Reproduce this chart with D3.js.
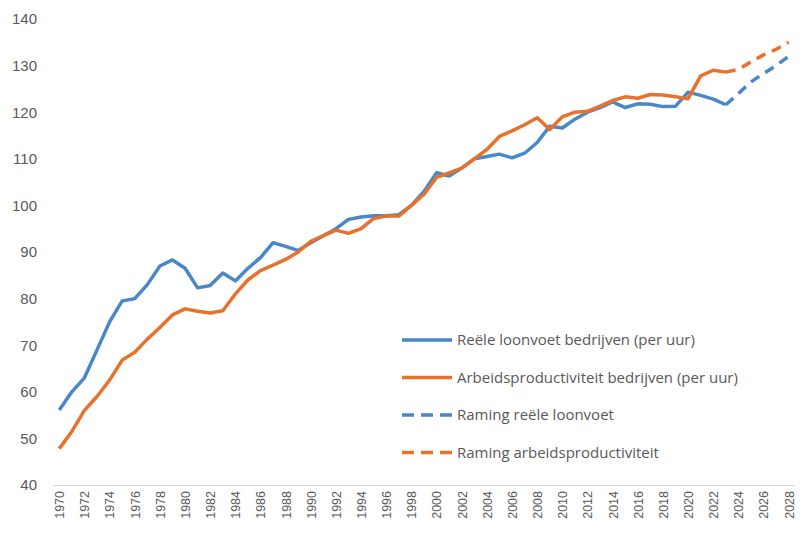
<!DOCTYPE html>
<html>
<head>
<meta charset="utf-8">
<script src="https://cdn.jsdelivr.net/npm/d3@7"></script>
<style>
  body { margin: 0; background: #fff; }
  svg { display: block; font-family: "Open Sans", "Noto Sans", sans-serif; }
</style>
</head>
<body>
<svg width="803" height="533"></svg>
<script>
"use strict";

// years on the axis
const years = d3.range(1970, 2029);

// Reële loonvoet bedrijven (per uur), 1970-2023
const loonvoet = [56.1, 60, 63, 69, 75, 79.5, 80, 83, 87, 88.3,
  86.5, 82.3, 82.8, 85.5, 83.8, 86.5, 88.8, 92, 91.2, 90.3,
  92, 93.5, 95, 97, 97.5, 97.8, 97.8, 98, 100, 103,
  107, 106.3, 108, 110, 110.5, 111, 110.2, 111.2, 113.5, 117,
  116.6, 118.5, 120, 121, 122.2, 121, 121.8, 121.7, 121.2, 121.3,
  124.3, 123.6, 122.8, 121.6];

// Arbeidsproductiviteit bedrijven (per uur), 1970-2023
const productiviteit = [47.8, 51.5, 56, 59, 62.5, 66.8, 68.5, 71.3, 73.8, 76.5,
  77.8, 77.3, 76.9, 77.4, 81, 84, 86, 87.2, 88.4, 90,
  92.3, 93.5, 94.7, 94, 95, 97.2, 97.7, 97.7, 100, 102.4,
  106, 107, 108, 110, 112, 114.8, 116, 117.3, 118.8, 116.3,
  119, 120, 120.2, 121.3, 122.5, 123.3, 123, 123.8, 123.7, 123.3,
  122.9, 127.8, 129, 128.6];

// ramingen 2023-2028
const ramingYears = [2023, 2024, 2025, 2026, 2027, 2028];
const ramingLoonvoet = [121.6, 124, 126.5, 128.3, 130, 132];
const ramingProductiviteit = [128.6, 129.2, 130.8, 132.3, 133.5, 135];

const yTicks = [40, 50, 60, 70, 80, 90, 100, 110, 120, 130, 140];

const legendLabels = [
  "Reële loonvoet bedrijven (per uur)",
  "Arbeidsproductiviteit bedrijven (per uur)",
  "Raming reële loonvoet",
  "Raming arbeidsproductiviteit"
];

const blue = "#4a87c9", orange = "#e8722c", grey = "#595959";

const svg = d3.select("svg");

const x = d3.scalePoint()
  .domain(years)
  .range([53, 795])
  .padding(0.5);

const y = d3.scaleLinear()
  .domain([40, 140])
  .range([485, 19]);

// y axis, labels only
const yAxis = svg.append("g")
  .attr("transform", "translate(37,0)")
  .call(d3.axisLeft(y).tickValues(yTicks).tickSize(0).tickPadding(0));
yAxis.select(".domain").remove();
yAxis.selectAll("text")
  .attr("fill", grey)
  .style("font-size", "15px");

// x axis
const xAxis = svg.append("g")
  .attr("transform", "translate(0,485)")
  .call(d3.axisBottom(x)
    .tickValues(years.filter(d => d % 2 === 0))
    .tickSize(0)
    .tickSizeOuter(0));
xAxis.select(".domain")
  .attr("stroke", "#d9d9d9")
  .attr("d", "M53,0.5H795");
xAxis.selectAll("text")
  .attr("fill", grey)
  .style("font-size", "12.5px")
  .attr("text-anchor", "end")
  .attr("transform", "rotate(-90)")
  .attr("x", -6)
  .attr("y", 0)
  .attr("dy", "0.35em");

const line = d3.line()
  .x(d => x(d[0]))
  .y(d => y(d[1]));

const series = [
  { years: years, values: loonvoet, color: blue, dash: null },
  { years: years, values: productiviteit, color: orange, dash: null },
  { years: ramingYears, values: ramingLoonvoet, color: blue, dash: "10,7" },
  { years: ramingYears, values: ramingProductiviteit, color: orange, dash: "10,7" }
];

series.forEach(s => {
  const pts = s.values.map((v, i) => [s.years[i], v]);
  svg.append("path")
    .attr("d", line(pts))
    .attr("fill", "none")
    .attr("stroke", s.color)
    .attr("stroke-width", 3.5)
    .attr("stroke-linejoin", "round")
    .attr("stroke-dasharray", s.dash);
});

// legend
const legend = svg.append("g").attr("transform", "translate(402,340)");
legendLabels.forEach((label, i) => {
  const g = legend.append("g").attr("transform", "translate(0," + (i * 37.5) + ")");
  g.append("line")
    .attr("x1", 0).attr("x2", 50)
    .attr("stroke", series[i].color)
    .attr("stroke-width", 3.5)
    .attr("stroke-dasharray", series[i].dash ? "12,7" : null);
  g.append("text")
    .attr("x", 55)
    .attr("dy", "0.35em")
    .attr("fill", grey)
    .style("font-size", "15px")
    .text(label);
});
</script>
</body>
</html>
